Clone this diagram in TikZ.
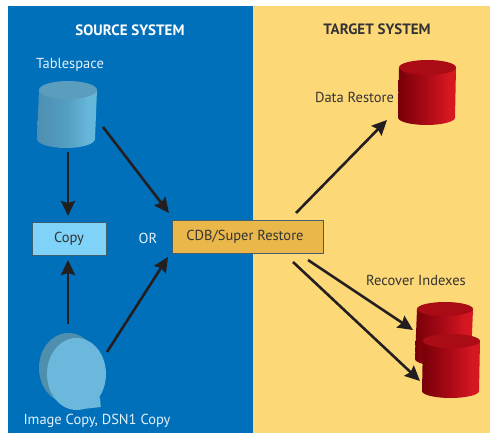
\documentclass[tikz,border=0pt]{standalone}
\usepackage{fontspec}
\setmainfont{PT Sans}
\usetikzlibrary{arrows.meta}
\definecolor{srcblue}{HTML}{0070BB}
\definecolor{tgtyellow}{HTML}{FDD877}
\definecolor{boxline}{HTML}{3F5F70}
\definecolor{copyfill}{HTML}{7FD2F8}
\definecolor{restorefill}{HTML}{EAB84A}
\definecolor{ltext}{HTML}{E4F0F8}
\definecolor{dtext}{HTML}{333333}
\definecolor{arrowk}{HTML}{231F20}
\definecolor{bTop}{HTML}{5B9DBD}
\definecolor{reelback}{HTML}{4F8FAE}
\definecolor{rTop}{HTML}{AA0B14}
\definecolor{reelfront}{HTML}{6CB8DC}
\pgfdeclarehorizontalshading{cylblue}{100bp}{rgb(0bp)=(0.30,0.56,0.70);rgb(25bp)=(0.30,0.56,0.70);rgb(50bp)=(0.33,0.62,0.76);rgb(68bp)=(0.40,0.72,0.86);rgb(75bp)=(0.40,0.72,0.86);rgb(100bp)=(0.36,0.65,0.80)}
\pgfdeclarehorizontalshading{cylred}{100bp}{rgb(0bp)=(0.47,0.0,0.03);rgb(25bp)=(0.47,0.0,0.03);rgb(50bp)=(0.67,0.04,0.09);rgb(68bp)=(0.83,0.09,0.13);rgb(75bp)=(0.83,0.09,0.13);rgb(100bp)=(0.70,0.05,0.10)}
\tikzset{
  flowbox/.style={draw=boxline,line width=0.9pt,minimum height=33pt,inner sep=0pt,text=dtext,font=\fontsize{14.5}{16}\selectfont},
  ltlabel/.style={text=ltext,inner sep=0pt,font=\fontsize{14.5}{16}\selectfont},
  dklabel/.style={text=dtext,inner sep=0pt,font=\fontsize{14.5}{16}\selectfont},
  headw/.style={text=white,inner sep=0pt,font=\bfseries\fontsize{15}{17}\selectfont},
  headk/.style={text=dtext,inner sep=0pt,font=\bfseries\fontsize{15}{17}\selectfont},
  flow/.style={draw=arrowk,line width=2.6pt,-{Stealth[length=15pt,width=14pt,inset=2pt]}},
}
% #1 shading, #2 top colour, #3 top-left x, #4 top-right x, #5 top centre y, #6 top ry, #7 bottom shift x, #8 side height
\newcommand{\drum}[8]{%
  \shade[shading=#1]
    (#3,#5) -- (#3+#7,#5+#8)
    arc[start angle=180,end angle=0,x radius={(#4-#3)/2},y radius=#6]
    -- (#4,#5) -- cycle;
  \fill[#2] ({(#3+#4)/2},#5) ellipse[x radius={(#4-#3)/2},y radius=#6];
}
\begin{document}
\begin{tikzpicture}[x=1pt,y=-1pt]
\useasboundingbox (0,0) rectangle (490,433);
\fill[white] (0,0) rectangle (490,433);
\fill[srcblue] (8,6) rectangle (253,433);
\fill[tgtyellow] (253,6) rectangle (490,433);

% drums
\drum{cylblue}{bTop}{39}{97}{90}{9}{-2}{49}
\drum{cylred}{rTop}{399}{456}{67.5}{7.5}{-1}{50}
\drum{cylred}{rTop}{417}{473}{309}{7}{-2}{50}
\drum{cylred}{rTop}{423}{480}{341}{7}{-1}{50}

% tape reel
\fill[reelback] (68.5,368) ellipse[x radius=29.5,y radius=35];
\fill[reelfront] (76.5,374) ellipse[x radius=29.5,y radius=36];
\fill[reelfront] (94,396) -- (100,397.5) -- (100.8,407) -- (74,410) -- cycle;

% texts
\node[headw] (srchead) at (130,30) {SOURCE SYSTEM};
\node[headk] (tgthead) at (377,29.5) {TARGET SYSTEM};
\node[ltlabel] (tablespace) at (70,65) {Tablespace};
\node[dklabel] (datarestore) at (354.5,97) {Data Restore};
\node[dklabel] (recover) at (416,280) {Recover Indexes};
\node[ltlabel] (imagecopy) at (97,421) {Image Copy, DSN1 Copy};
\node[ltlabel] (orlabel) at (148,238) {OR};

% boxes
\node[flowbox,fill=copyfill,minimum width=74pt] (copy) at (69,238.5) {Copy};
\node[flowbox,fill=restorefill,minimum width=151pt] (restore) at (247.5,237) {\hspace*{-5pt}CDB/Super Restore};

% connector ends
\coordinate (tsA) at (68,152);
\coordinate (tsB) at (103,127);
\coordinate (cdbA) at (169,213);
\coordinate (copyT) at (68,216);
\coordinate (copyB) at (68,260);
\coordinate (imgA) at (68,324);
\coordinate (imgB) at (107,352);
\coordinate (cdbB) at (168,257);
\coordinate (rsA) at (296,213);
\coordinate (rsB) at (308,260);
\coordinate (rsC) at (293,262);
\coordinate (drT) at (387,120);
\coordinate (riA) at (413,330);
\coordinate (riB) at (420,381);

\draw[flow] (tsA) -- (copyT);
\draw[flow] (tsB) -- (cdbA);
\draw[flow] (imgA) -- (copyB);
\draw[flow] (imgB) -- (cdbB);
\draw[flow] (rsA) -- (drT);
\draw[flow] (rsB) -- (riA);
\draw[flow] (rsC) -- (riB);
\end{tikzpicture}
\end{document}
